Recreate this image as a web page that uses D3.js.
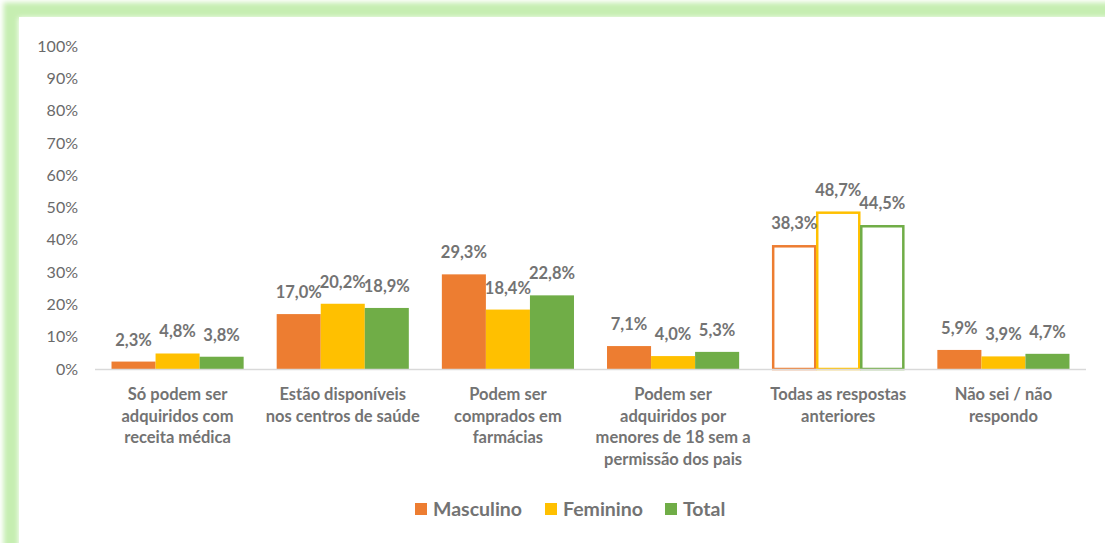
<html>
<meta charset="utf-8" />
<head>
<title>Métodos contraceptivos - respostas por sexo</title>
<script src="https://cdn.jsdelivr.net/npm/d3@7"></script>
<style>
	body { margin:0; background:#fff; }
	svg { display:block; font-family:Lato, "Open Sans", sans-serif; }
</style>
<script>

// categorias (cada linha do rótulo em separado)
const categories = [
	["Só podem ser", "adquiridos com", "receita médica"],
	["Estão disponíveis", "nos centros de saúde"],
	["Podem ser", "comprados em", "farmácias"],
	["Podem ser", "adquiridos por", "menores de 18 sem a", "permissão dos pais"],
	["Todas as respostas", "anteriores"],
	["Não sei / não", "respondo"]
];
const seriesNames = ["Masculino", "Feminino", "Total"];
const masculino = [2.3, 17.0, 29.3, 7.1, 38.3, 5.9];
const feminino  = [4.8, 20.2, 18.4, 4.0, 48.7, 3.9];
const total     = [3.8, 18.9, 22.8, 5.3, 44.5, 4.7];
const yTicks = [0, 10, 20, 30, 40, 50, 60, 70, 80, 90, 100];
const outlinedCategory = 4; // "Todas as respostas anteriores" desenhada só com contorno

window.onload = function() {
	const colors = ["#ED7D31", "#FFC000", "#70AD47"];
	const values = [masculino, feminino, total];
	const pt = d3.formatLocale({decimal: ",", thousands: ".", grouping: [3], currency: ["", "€"]});
	const fmt1 = pt.format(".1f");

	const svg = d3.select('svg');

	// moldura verde com brilho
	const defs = svg.append('defs');
	defs.append('filter').attr('id', 'glow').attr('x', '-5%').attr('y', '-5%').attr('width', '110%').attr('height', '110%')
		.append('feGaussianBlur').attr('stdDeviation', 2.5);
	svg.append('rect').attr('x', 11).attr('y', 10).attr('width', 1200).attr('height', 700)
		.style('fill', 'none').style('stroke', '#c6eeb1').style('stroke-width', 15)
		.attr('filter', 'url(#glow)');
	svg.append('rect').attr('x', 19).attr('y', 17).attr('width', 1200).attr('height', 700)
		.style('fill', '#fff');

	const ids = d3.range(categories.length);
	const x0 = d3.scaleBand().domain(ids).range([95, 1086]).paddingInner(0).paddingOuter(0);
	const x1 = d3.scaleBand().domain(d3.range(3)).range([0, x0.bandwidth()]).paddingInner(0).paddingOuter(0.375);
	const y = d3.scaleLinear().domain([0, 100]).range([369, 46]);

	// eixo Y (só rótulos)
	const yAxis = svg.append('g').attr('transform', 'translate(78,0)')
		.call(d3.axisLeft(y).tickValues(yTicks).tickSize(0).tickPadding(0).tickFormat(d => d + "%"));
	yAxis.select('.domain').remove();
	yAxis.selectAll('text').style('font-size', '16px').style('fill', '#6a6a6a')
		.style('font-family', 'Lato, sans-serif');

	// barras
	const groups = svg.selectAll('g.cat').data(ids).enter().append('g')
		.attr('class', 'cat').attr('transform', d => 'translate(' + x0(d) + ',0)');

	groups.each(function(ci) {
		const g = d3.select(this);
		const outlined = ci === outlinedCategory;
		const bars = d3.range(3).map(si => ({si: si, v: values[si][ci]}));
		g.selectAll('rect').data(bars).enter().append('rect')
			.attr('x', d => x1(d.si) + (outlined ? 1 : 0))
			.attr('width', d => x1.bandwidth() - (outlined ? 2 : 0))
			.attr('y', d => y(d.v) + (outlined ? 1 : 0))
			.attr('height', d => y(0) - y(d.v) - (outlined ? 1 : 0))
			.style('fill', d => outlined ? '#fff' : colors[d.si])
			.style('stroke', d => outlined ? colors[d.si] : 'none')
			.style('stroke-width', 2.5);
		g.selectAll('text.lbl').data(bars).enter().append('text')
			.attr('class', 'lbl')
			.attr('x', d => x1(d.si) + x1.bandwidth() / 2)
			.attr('y', d => y(d.v) - 16)
			.attr('text-anchor', 'middle')
			.style('font-size', '16.5px').style('font-weight', 'bold').style('fill', '#737373')
			.text(d => fmt1(d.v) + "%");
	});

	// linha do eixo X
	svg.append('line').attr('x1', x0.range()[0]).attr('x2', x0.range()[1])
		.attr('y1', y(0) + 0.5).attr('y2', y(0) + 0.5)
		.style('stroke', '#d9d9d9').style('stroke-width', 1.5);

	// rótulos das categorias
	const catText = svg.selectAll('text.cat').data(ids).enter().append('text')
		.attr('class', 'cat')
		.attr('x', d => x0(d) + x0.bandwidth() / 2)
		.attr('y', 400)
		.attr('text-anchor', 'middle')
		.style('font-size', '16.5px').style('font-weight', 'bold').style('fill', '#737373');
	catText.each(function(ci) {
		d3.select(this).selectAll('tspan').data(categories[ci]).enter().append('tspan')
			.attr('x', x0(ci) + x0.bandwidth() / 2)
			.attr('dy', (d, i) => i === 0 ? 0 : 21.7)
			.text(d => d);
	});

	// legenda
	const legendX = [415, 545, 665];
	const leg = svg.selectAll('g.leg').data(seriesNames).enter().append('g')
		.attr('class', 'leg').attr('transform', (d, i) => 'translate(' + legendX[i] + ',503)');
	leg.append('rect').attr('width', 12).attr('height', 12).style('fill', (d, i) => colors[i]);
	leg.append('text').attr('x', 18).attr('y', 13)
		.style('font-size', '19.5px').style('font-weight', 'bold').style('fill', '#737373')
		.text(d => d);
};

</script>
</head>
<body>
	<svg width="1105" height="543"></svg>
</body>
</html>
